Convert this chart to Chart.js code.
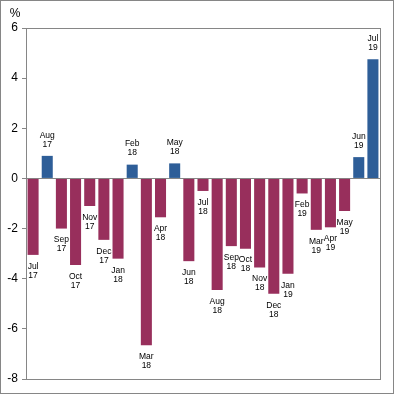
<!DOCTYPE html>
<html>
<head>
<meta charset="utf-8">
<script src="https://cdn.jsdelivr.net/npm/chart.js@4/dist/chart.umd.min.js"></script>
<style>
  html, body { margin: 0; padding: 0; background: #fff; }
  #wrap { width: 394px; height: 394px; box-sizing: border-box; border: 1px solid #868686; }
</style>
</head>
<body>
<div id="wrap"><canvas id="chart" width="392" height="392"></canvas></div>
<script>
const months = ['Jul','Aug','Sep','Oct','Nov','Dec','Jan','Feb','Mar','Apr','May','Jun','Jul','Aug','Sep','Oct','Nov','Dec','Jan','Feb','Mar','Apr','May','Jun','Jul'];
const years = ['17','17','17','17','17','17','18','18','18','18','18','18','18','18','18','18','18','18','19','19','19','19','19','19','19'];
const values = [-3.05,0.9,-2.0,-3.45,-1.1,-2.45,-3.2,0.55,-6.65,-1.55,0.6,-3.3,-0.5,-4.45,-2.7,-2.8,-3.55,-4.6,-3.8,-0.6,-2.05,-1.95,-1.3,0.85,4.75];
const yTicks = [-8,-6,-4,-2,0,2,4,6];

const posColour = '#2E5E98';
const negColour = '#982F5C';
const lineColour = '#868686';

const labelPlugin = {
  id: 'barLabels',
  afterDatasetsDraw(chart) {
    const ctx = chart.ctx;
    const area = chart.chartArea;
    ctx.save();
    // plot frame
    ctx.strokeStyle = lineColour;
    ctx.lineWidth = 1;
    ctx.strokeRect(Math.round(area.left) + 0.5, Math.round(area.top) + 0.5,
      Math.round(area.right - area.left), Math.round(area.bottom - area.top));
    // unit
    ctx.fillStyle = '#000';
    ctx.font = '12px "Liberation Sans", Arial, sans-serif';
    ctx.textAlign = 'center';
    ctx.textBaseline = 'middle';
    ctx.fillText('%', 14, 13);
    // month labels
    ctx.font = '8.5px "Liberation Sans", Arial, sans-serif';
    const meta = chart.getDatasetMeta(0);
    meta.data.forEach((bar, i) => {
      const v = values[i];
      let y1, y2;
      if (v < 0) {
        y1 = bar.y + 11.5;
        y2 = y1 + 9;
      } else {
        y2 = bar.y - 11.5;
        y1 = y2 - 9;
      }
      ctx.fillText(months[i], bar.x, y1);
      ctx.fillText(years[i], bar.x, y2);
    });
    ctx.restore();
  }
};

new Chart(document.getElementById('chart'), {
  type: 'bar',
  data: {
    labels: months.map((m, i) => m + ' ' + years[i]),
    datasets: [{
      data: values,
      backgroundColor: values.map(v => v < 0 ? negColour : posColour),
      borderWidth: 0,
      categoryPercentage: 1,
      barPercentage: 0.78
    }]
  },
  options: {
    responsive: false,
    animation: false,
    layout: { padding: { left: 0, right: 13, top: 27, bottom: 14 } },
    plugins: { legend: { display: false }, tooltip: { enabled: false } },
    scales: {
      x: { display: false },
      y: {
        min: -8,
        max: 6,
        afterFit: s => { s.width = 25; },
        afterBuildTicks: s => { s.ticks = yTicks.map(v => ({ value: v })); },
        border: { display: true, color: lineColour },
        grid: {
          drawOnChartArea: true,
          color: c => c.tick && c.tick.value === 0 ? lineColour : 'transparent',
          tickColor: lineColour,
          tickLength: 4
        },
        ticks: {
          color: '#000',
          padding: 4,
          font: { size: 12, family: '"Liberation Sans", Arial, sans-serif' }
        }
      }
    }
  },
  plugins: [labelPlugin]
});
</script>
</body>
</html>
